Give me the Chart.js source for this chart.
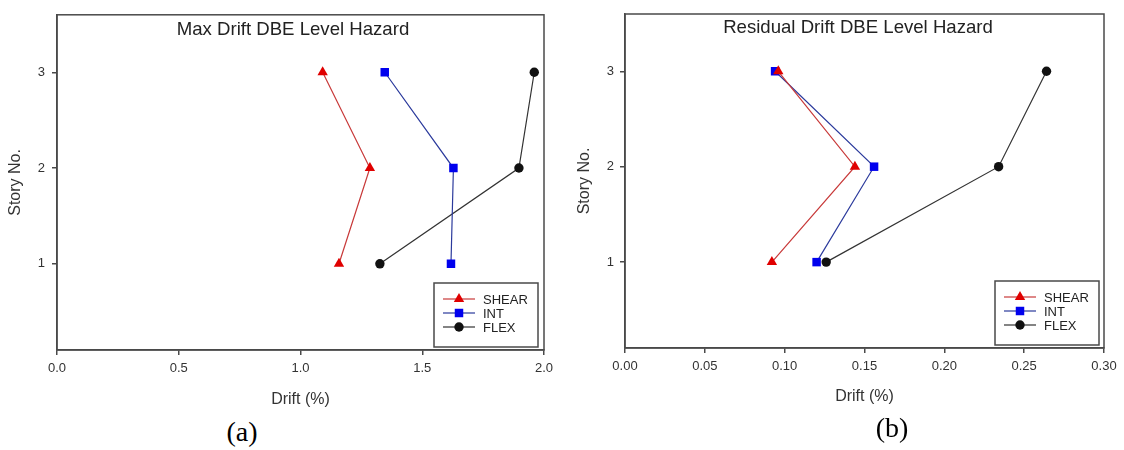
<!DOCTYPE html>
<html><head><meta charset="utf-8">
<script src="https://cdn.jsdelivr.net/npm/chart.js@4"></script>
<style>
body{margin:0;background:#fff;width:1124px;height:450px;overflow:hidden;position:relative}
canvas{position:absolute;top:0}
#c1{left:0}
#c2{left:562px}
.cap{position:absolute;font-family:"Liberation Serif","Times New Roman",serif;font-size:28px;color:#000;transform:translate(-50%,-50%);white-space:nowrap}
</style></head><body>
<canvas id="c1" width="562" height="415"></canvas>
<canvas id="c2" width="562" height="415"></canvas>
<div class="cap" style="left:242px;top:432px">(a)</div>
<div class="cap" style="left:892px;top:428px">(b)</div>
<script>
const stories = [1, 2, 3];
const storyTicks = [1, 2, 3];
const maxShear = [1.158, 1.285, 1.091];
const maxInt   = [1.618, 1.628, 1.346];
const maxFlex  = [1.326, 1.897, 1.960];
const resShear = [0.092, 0.144, 0.096];
const resInt   = [0.120, 0.156, 0.094];
const resFlex  = [0.126, 0.234, 0.264];
const maxTicks = [0, 0.5, 1.0, 1.5, 2.0];
const resTicks = [0, 0.05, 0.10, 0.15, 0.20, 0.25, 0.30];
const seriesNames = ['SHEAR', 'INT', 'FLEX'];
const chartTitles = ['Max Drift DBE Level Hazard', 'Residual Drift DBE Level Hazard'];
const xTitle = 'Drift (%)';
const yTitle = 'Story No.';

const FRAME = '#4a4a4a';
const styles = [
  {ps:'triangle', r:6, fill:'#e00000', line:'#c83a3a'},
  {ps:'rect', r:6, fill:'#0000ee', line:'#2b3a9c'},
  {ps:'circle', r:4.7, fill:'#111111', line:'#333333'}
];

function drawMarker(ctx, st, x, y){
  ctx.fillStyle = st.fill;
  ctx.beginPath();
  if (st.ps === 'triangle'){
    const r = st.r;
    ctx.moveTo(x, y - r);
    ctx.lineTo(x + r*Math.sqrt(3)/2, y + r/2);
    ctx.lineTo(x - r*Math.sqrt(3)/2, y + r/2);
    ctx.closePath();
  } else if (st.ps === 'rect'){
    const h = st.r*Math.SQRT1_2;
    ctx.rect(x - h, y - h, 2*h, 2*h);
  } else {
    ctx.arc(x, y, st.r, 0, Math.PI*2);
  }
  ctx.fill();
}

const framePlugin = {
  id: 'frame',
  afterDraw(chart, args, o){
    const {ctx, chartArea:a} = chart;
    ctx.save();
    ctx.strokeStyle = FRAME; ctx.lineWidth = 1.5;
    ctx.strokeRect(a.left, a.top, a.right - a.left, a.bottom - a.top);
    ctx.fillStyle = '#222';
    ctx.font = '18.6px "Liberation Sans", Arial, sans-serif';
    ctx.textAlign = 'center'; ctx.textBaseline = 'middle';
    ctx.fillText(o.text, (a.left + a.right)/2 + o.dx, a.top + o.dy);
    // legend
    const bw = 104, bh = 64;
    const bx = a.right - o.rInset - bw, by = a.bottom - 3 - bh;
    ctx.fillStyle = '#fff';
    ctx.fillRect(bx, by, bw, bh);
    ctx.lineWidth = 1.5; ctx.strokeStyle = FRAME;
    ctx.strokeRect(bx, by, bw, bh);
    ctx.font = '13px "Liberation Sans", Arial, sans-serif';
    ctx.textAlign = 'left';
    chart.data.datasets.forEach((ds, i) => {
      const st = styles[i];
      const y = by + 16 + i*14;
      ctx.strokeStyle = st.line; ctx.lineWidth = 1.2;
      ctx.beginPath(); ctx.moveTo(bx + 9, y); ctx.lineTo(bx + 41, y); ctx.stroke();
      drawMarker(ctx, st, bx + 25, y);
      ctx.fillStyle = '#222';
      ctx.fillText(ds.label, bx + 49, y + 1);
    });
    ctx.restore();
  }
};

function makeDatasets(vals){
  return vals.map((arr, i) => ({
    label: seriesNames[i],
    data: arr.map((v, k) => ({x: v, y: stories[k]})),
    showLine: true,
    borderColor: styles[i].line,
    borderWidth: 1.2,
    pointStyle: styles[i].ps,
    pointRadius: styles[i].r,
    pointBackgroundColor: styles[i].fill,
    pointBorderColor: styles[i].fill,
    pointBorderWidth: 0,
    fill: false,
    tension: 0
  }));
}

function makeChart(id, vals, ticks, dec, cfg){
  return new Chart(document.getElementById(id), {
    type: 'scatter',
    data: { datasets: makeDatasets(vals) },
    plugins: [framePlugin],
    options: {
      responsive: false, animation: false, devicePixelRatio: 1, events: [],
      layout: { padding: { left: 0, top: cfg.top, right: cfg.right, bottom: 0 } },
      plugins: {
        legend: { display: false }, tooltip: { enabled: false },
        frame: { text: cfg.title, dx: cfg.dx, dy: cfg.dy, rInset: cfg.rInset }
      },
      scales: {
        x: {
          type: 'linear', min: ticks[0], max: ticks[ticks.length-1],
          afterBuildTicks: s => { s.ticks = ticks.map(v => ({value: v})); },
          afterFit: s => { s.height = 415 - cfg.bottom; },
          ticks: { callback: v => Number(v).toFixed(dec), color: '#333', font: {size: 13, family: '"Liberation Sans", Arial, sans-serif'}, padding: 6, maxRotation: 0, autoSkip: false },
          grid: { drawOnChartArea: false, drawTicks: true, tickLength: 5, color: FRAME, lineWidth: 1.5 },
          border: { color: FRAME, width: 1.5 },
          title: { display: true, text: xTitle, color: '#333', font: {size: 16, family: '"Liberation Sans", Arial, sans-serif'}, padding: {top: 0, bottom: cfg.xtPad} }
        },
        y: {
          type: 'linear', min: 0.1, max: 3.6,
          afterBuildTicks: s => { s.ticks = storyTicks.map(v => ({value: v})); },
          afterFit: s => { s.width = cfg.left; },
          ticks: { color: '#333', font: {size: 13, family: '"Liberation Sans", Arial, sans-serif'}, padding: cfg.ytickPad },
          grid: { drawOnChartArea: false, drawTicks: true, tickLength: 5, color: FRAME, lineWidth: 1.5 },
          border: { color: FRAME, width: 1.5 },
          title: { display: true, text: yTitle, color: '#333', font: {size: 16, family: '"Liberation Sans", Arial, sans-serif'}, padding: {top: cfg.ytPad, bottom: 0} }
        }
      }
    }
  });
}

makeChart('c1', [maxShear, maxInt, maxFlex], maxTicks, 1,
  {title: chartTitles[0], top: 10, right: 18, bottom: 350, left: 57, dx: -7.5, dy: 15, rInset: 6, xtPad: 5.4, ytPad: 6.4, ytickPad: 7});
makeChart('c2', [resShear, resInt, resFlex], resTicks, 2,
  {title: chartTitles[1], top: 14, right: 20, bottom: 348, left: 63, dx: -6.5, dy: 14, rInset: 5, xtPad: 8.4, ytPad: 13.4, ytickPad: 6});
</script>
</body></html>
